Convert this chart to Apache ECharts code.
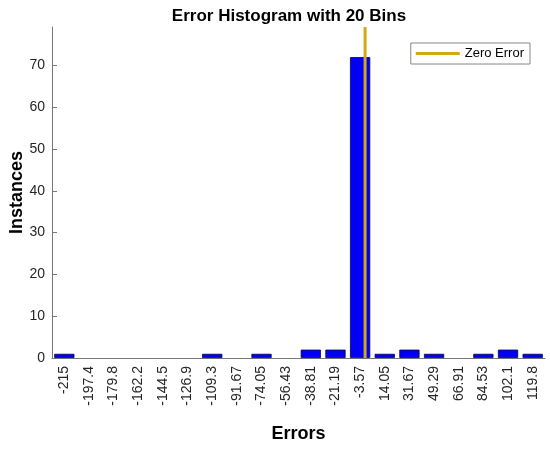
<!DOCTYPE html>
<html>
   <head>
      <meta charset="utf-8">
      <script src="https://cdn.jsdelivr.net/npm/echarts@6/dist/echarts.min.js"></script>
      <style>body{margin:0;background:#fff;}</style>
   </head>
   <body>
      <div id="main" style="width: 550px; height: 449px"></div>
      <script type="text/javascript">
          // bin centres (tick labels) and counts
          var binLabels = ['-215', '-197.4', '-179.8', '-162.2', '-144.5', '-126.9', '-109.3', '-91.67', '-74.05', '-56.43',
                           '-38.81', '-21.19', '-3.57', '14.05', '31.67', '49.29', '66.91', '84.53', '102.1', '119.8'];
          var counts = [1, 0, 0, 0, 0, 0, 1, 0, 1, 0, 2, 2, 72, 1, 2, 1, 0, 1, 2, 1];
          var firstCentre = -215;
          var lastCentre = 119.8;
          var zeroError = 0;
          var yMax = 79.2;

          var halfBin = (lastCentre - firstCentre) / (binLabels.length - 1) / 2;
          var myChart = echarts.init(document.getElementById('main'));
          var font = 'Arial, "Liberation Sans", sans-serif';

          myChart.setOption({
              animation: false,
              title: {
                  text: 'Error Histogram with 20 Bins',
                  left: 284, top: 3, textAlign: 'center',
                  textStyle: { fontFamily: font, fontSize: 17, fontWeight: 'bold', color: '#000' }
              },
              legend: {
                  data: [{ name: 'Zero Error', icon: 'rect' }],
                  right: 20, top: 43,
                  itemWidth: 44, itemHeight: 3,
                  padding: [4, 6, 4, 5],
                  borderColor: '#888', borderWidth: 1,
                  backgroundColor: '#fff',
                  textStyle: { fontFamily: font, fontSize: 13, color: '#000' }
              },
              grid: { left: 52, right: 5, top: 27, bottom: 91, outerBoundsMode: 'none' },
              xAxis: [{
                  type: 'category',
                  data: binLabels,
                  name: 'Errors',
                  nameLocation: 'middle',
                  nameGap: 67,
                  nameMoveOverlap: false,
                  nameTextStyle: { fontFamily: font, fontSize: 18, fontWeight: 'bold', color: '#000' },
                  axisLine: { show: true, onZero: false, lineStyle: { color: '#777' } },
                  axisTick: { inside: true, alignWithLabel: true, length: 5, lineStyle: { color: '#777' } },
                  axisLabel: { rotate: 90, interval: 0, margin: 8, fontFamily: font, fontSize: 14, color: '#262626' }
              }, {
                  type: 'value',
                  min: firstCentre - halfBin,
                  max: lastCentre + halfBin,
                  show: false
              }],
              yAxis: {
                  type: 'value',
                  min: 0, max: yMax, interval: 10,
                  name: 'Instances',
                  nameLocation: 'middle',
                  nameGap: 26,
                  nameMoveOverlap: false,
                  nameTextStyle: { fontFamily: font, fontSize: 18, fontWeight: 'bold', color: '#000' },
                  splitLine: { show: false },
                  axisLine: { show: true, onZero: false, lineStyle: { color: '#777' } },
                  axisTick: { show: true, inside: true, length: 5, lineStyle: { color: '#777' } },
                  axisLabel: { fontFamily: font, fontSize: 14, color: '#262626', margin: 7,
                               showMaxLabel: false }
              },
              series: [{
                  name: 'Errors',
                  type: 'bar',
                  // empty bins draw nothing
                  data: counts.map(function (v) { return v === 0 ? null : v; }),
                  barCategoryGap: '18%',
                  itemStyle: { color: '#0000f5', borderColor: '#000050', borderWidth: 0.8 }
              }, {
                  name: 'Zero Error',
                  type: 'line',
                  xAxisIndex: 1,
                  data: [[zeroError, 0], [zeroError, yMax]],
                  symbol: 'none',
                  color: '#d2aa10',
                  lineStyle: { color: '#d2aa10', width: 3 },
                  z: 5
              }]
          });
      </script>
   </body>
</html>
